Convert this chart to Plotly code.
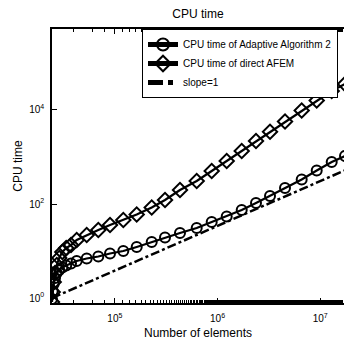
import plotly.graph_objects as go

# Number of elements (shared by both series)
n_elements = [24430, 24820, 25390, 26140, 27210, 28720, 30780, 33600, 37410, 42510,
              53200, 69010, 89710, 120840, 163200, 228500, 307900, 430800, 626600,
              877000, 1227600, 1718800, 2368000, 3242000, 4538000, 6596000, 9237000,
              12930000, 17420000]

cpu_adaptive = [0.952, 1.409, 1.986, 2.665, 3.402, 3.941, 4.456, 4.915, 5.420, 6.127,
                6.925, 7.638, 8.848, 10.0, 12.17, 15.54, 19.38, 24.15, 30.86, 41.40,
                54.20, 74.52, 105.0, 148.0, 219.0, 332.1, 516.2, 782.6, 1050]

cpu_direct = [0.822, 1.342, 2.190, 3.402, 5.036, 7.097, 9.522, 11.58, 13.42, 17.14,
              21.90, 27.98, 35.75, 45.66, 59.78, 84.23, 121.6, 198.6, 308.7, 503.6,
              822.1, 1342, 2190, 3454, 5691, 9759, 15930, 25370, 35750]

slope_n = [24430, 17420000]
slope_t = [1.0, 521]

y_tickvals = [1, 100, 10000]
y_ticktext = ["10<sup>0</sup>", "10<sup>2</sup>", "10<sup>4</sup>"]
x_tickvals = [1e5, 1e6, 1e7]
x_ticktext = ["10<sup>5</sup>", "10<sup>6</sup>", "10<sup>7</sup>"]

FONT = "Liberation Sans, Arial, Helvetica, sans-serif"

fig = go.Figure()
fig.add_trace(go.Scatter(
    x=n_elements, y=cpu_adaptive, mode="lines+markers",
    name="CPU time of Adaptive Algorithm 2",
    line=dict(color="black", width=2.2),
    marker=dict(symbol="circle-open", size=10, color="black", line=dict(width=2)),
))
fig.add_trace(go.Scatter(
    x=n_elements, y=cpu_direct, mode="lines+markers",
    name="CPU time of direct AFEM",
    line=dict(color="black", width=2.2),
    marker=dict(symbol="diamond-open", size=11, color="black", line=dict(width=2)),
))
fig.add_trace(go.Scatter(
    x=slope_n, y=slope_t, mode="lines", name="slope=1",
    line=dict(color="black", width=2.5, dash="dashdot"),
))

fig.update_layout(
    width=344, height=345,
    margin=dict(l=52, r=0, t=29, b=42, autoexpand=False),
    paper_bgcolor="white", plot_bgcolor="white",
    font=dict(family=FONT, size=11, color="black"),
    title=dict(text="CPU time", x=0.5, xref="paper", xanchor="center",
               y=1 - 14 / 345, yanchor="middle", yref="container",
               font=dict(size=12)),
    showlegend=True,
    legend=dict(x=(142 - 52) / 292, y=1, xanchor="left", yanchor="top",
                bordercolor="black", borderwidth=1, bgcolor="white",
                font=dict(size=10), tracegroupgap=0, itemsizing="constant"),
)
fig.update_xaxes(
    type="log", range=[4.388, 4.388 + 292 / 102.7],
    showline=True, linecolor="black", linewidth=1.5, mirror="ticks",
    ticks="inside", ticklen=5, tickcolor="black",
    tickvals=x_tickvals, ticktext=x_ticktext, tickfont=dict(size=10),
    ticklabelstandoff=5,
    minor=dict(ticks="inside", ticklen=3, tickcolor="black"),
    showgrid=False, zeroline=False,
    title=dict(text="Number of elements", font=dict(size=12), standoff=6),
)
fig.update_yaxes(
    type="log", range=[-0.106, 5.723],
    showline=True, linecolor="black", linewidth=1.5, mirror=False,
    ticks="inside", ticklen=5, tickcolor="black",
    tickvals=y_tickvals, ticktext=y_ticktext, tickfont=dict(size=10),
    ticklabelstandoff=4,
    showgrid=False, zeroline=False,
    title=dict(text="CPU time", font=dict(size=12), standoff=4),
)

fig.write_html("out.html", config={"displayModeBar": False},
               post_script="document.body.style.margin='0';")
